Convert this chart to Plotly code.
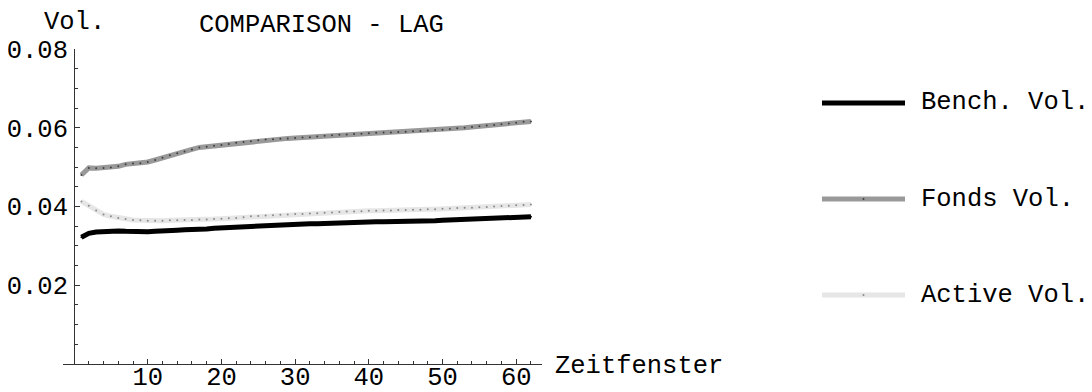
import plotly.graph_objects as go

# ---------------- data ----------------
lag = list(range(1, 63))

bench_vol = [0.0322, 0.0332, 0.0335, 0.0337, 0.0338, 0.0338, 0.0337, 0.0336, 0.0336, 0.0336,
             0.0337, 0.0339, 0.0340, 0.0340, 0.0341, 0.0341, 0.0342, 0.0343, 0.0345, 0.0346,
             0.0347, 0.0348, 0.0349, 0.0350, 0.0351, 0.0351, 0.0352, 0.0352, 0.0353, 0.0354,
             0.0355, 0.0356, 0.0356, 0.0357, 0.0358, 0.0358, 0.0359, 0.0359, 0.0360, 0.0360,
             0.0361, 0.0361, 0.0361, 0.0362, 0.0362, 0.0362, 0.0363, 0.0363, 0.0364, 0.0365,
             0.0366, 0.0367, 0.0368, 0.0369, 0.0370, 0.0371, 0.0371, 0.0372, 0.0373, 0.0373,
             0.0374, 0.0374]

fonds_vol = [0.0480, 0.0498, 0.0497, 0.0498, 0.0499, 0.0502, 0.0507, 0.0509, 0.0510, 0.0513,
             0.0518, 0.0524, 0.0530, 0.0535, 0.0540, 0.0545, 0.0550, 0.0552, 0.0554, 0.0556,
             0.0559, 0.0562, 0.0564, 0.0566, 0.0568, 0.0570, 0.0571, 0.0572, 0.0573, 0.0574,
             0.0575, 0.0576, 0.0578, 0.0580, 0.0581, 0.0582, 0.0583, 0.0584, 0.0585, 0.0586,
             0.0587, 0.0588, 0.0588, 0.0589, 0.0590, 0.0591, 0.0592, 0.0593, 0.0594, 0.0595,
             0.0597, 0.0599, 0.0600, 0.0602, 0.0604, 0.0606, 0.0607, 0.0609, 0.0611, 0.0613,
             0.0615, 0.0616]

active_vol = [0.0413, 0.0402, 0.0390, 0.0380, 0.0375, 0.0371, 0.0368, 0.0366, 0.0365, 0.0364,
              0.0364, 0.0364, 0.0365, 0.0365, 0.0366, 0.0366, 0.0367, 0.0367, 0.0368, 0.0369,
              0.0370, 0.0371, 0.0373, 0.0375, 0.0376, 0.0377, 0.0378, 0.0379, 0.0380, 0.0381,
              0.0381, 0.0382, 0.0383, 0.0384, 0.0385, 0.0386, 0.0387, 0.0387, 0.0388, 0.0389,
              0.0389, 0.0390, 0.0390, 0.0391, 0.0391, 0.0392, 0.0392, 0.0393, 0.0393, 0.0394,
              0.0395, 0.0396, 0.0397, 0.0397, 0.0398, 0.0399, 0.0400, 0.0401, 0.0402, 0.0403,
              0.0404, 0.0405]

series_names = ["Bench. Vol.", "Fonds Vol.", "Active Vol."]
x_ticks = [10, 20, 30, 40, 50, 60]
y_ticks = [0.02, 0.04, 0.06, 0.08]
y_tick_text = ["0.02", "0.04", "0.06", "0.08"]
title_text = "COMPARISON - LAG"
x_label = "Zeitfenster"
y_label = "Vol."

# ---------------- styling ----------------
FONT = "Liberation Mono, Courier New, monospace"
FS = 25.5
W, H = 1092, 392
OFF = 8  # default page body margin
# plot-area edges in screen pixels
SL, SR, ST, SB = 63, 542, 49, 364
L, T = SL - OFF, ST - OFF
R = W - (SR - OFF)
B = H - (SB - OFF)
X_RANGE = [-1.5, 63.5]
Y_RANGE = [0, 0.08]
line_colors = ["#000000", "#999999", "#e6e6e6"]
dot_colors = ["#000000", "#404040", "#8a8a8a"]

plot_w = SR - SL
plot_h = SB - ST


def px(x):
    return (x - SL) / plot_w


def py(y):
    return (SB - y) / plot_h


fig = go.Figure()
for name, vals, lc, dc in zip(series_names, [bench_vol, fonds_vol, active_vol], line_colors, dot_colors):
    fig.add_trace(go.Scatter(
        x=lag, y=vals, name=name, mode="lines+markers",
        line=dict(color=lc, width=5),
        marker=dict(color=dc, size=2, line=dict(width=0)),
        showlegend=False,
    ))

y_axis_pos = (0 - X_RANGE[0]) / (X_RANGE[1] - X_RANGE[0])

fig.update_layout(
    width=W, height=H,
    margin=dict(l=L, r=R, t=T, b=B, pad=0, autoexpand=False),
    paper_bgcolor="white", plot_bgcolor="white",
    font=dict(family=FONT, size=FS, color="black"),
    xaxis=dict(
        range=X_RANGE, showgrid=False, zeroline=False, automargin=False,
        showline=True, linecolor="#333333", linewidth=1,
        tickmode="array", tickvals=x_ticks, ticktext=[str(v) for v in x_ticks],
        ticks="inside", ticklen=5, tickcolor="#333333", tickwidth=1,
        minor=dict(tickmode="linear", tick0=0, dtick=2, ticks="inside", ticklen=3,
                   tickcolor="#333333", showgrid=False),
        tickfont=dict(family=FONT, size=FS),
        ticklabelstandoff=-11,
    ),
    yaxis=dict(
        range=Y_RANGE, showgrid=False, zeroline=False, automargin=False,
        anchor="free", position=y_axis_pos,
        showline=True, linecolor="#333333", linewidth=1,
        tickmode="array", tickvals=y_ticks, ticktext=y_tick_text,
        ticks="inside", ticklen=5, tickcolor="#333333", tickwidth=1,
        minor=dict(tickmode="linear", tick0=0, dtick=0.005, ticks="inside", ticklen=3,
                   tickcolor="#333333", showgrid=False),
        tickfont=dict(family=FONT, size=FS),
        ticklabelstandoff=1,
    ),
)

# axis labels and title
fig.add_annotation(text=y_label, xref="paper", yref="paper", x=px(74), y=py(22),
                   xanchor="center", yanchor="middle", showarrow=False,
                   font=dict(family=FONT, size=FS))
fig.add_annotation(text=title_text, xref="paper", yref="paper", x=px(321), y=py(25),
                   xanchor="center", yanchor="middle", showarrow=False,
                   font=dict(family=FONT, size=FS))
fig.add_annotation(text=x_label, xref="paper", yref="paper", x=px(553), y=py(366),
                   xanchor="left", yanchor="middle", showarrow=False,
                   font=dict(family=FONT, size=FS))

# legend (manual, Mathematica-style)
legend_y = [103, 199, 295]
for name, lc, dc, ly in zip(series_names, line_colors, dot_colors, legend_y):
    fig.add_shape(type="line", xref="paper", yref="paper",
                  x0=px(822), x1=px(905), y0=py(ly), y1=py(ly),
                  line=dict(color=lc, width=5))
    fig.add_shape(type="circle", xref="paper", yref="paper",
                  x0=px(862.5), x1=px(864.5), y0=py(ly - 1), y1=py(ly + 1),
                  line=dict(width=0), fillcolor=dc)
    fig.add_annotation(text=name, xref="paper", yref="paper", x=px(919), y=py(ly),
                       xanchor="left", yanchor="middle", showarrow=False,
                       font=dict(family=FONT, size=FS))

fig.write_html("out.html")
